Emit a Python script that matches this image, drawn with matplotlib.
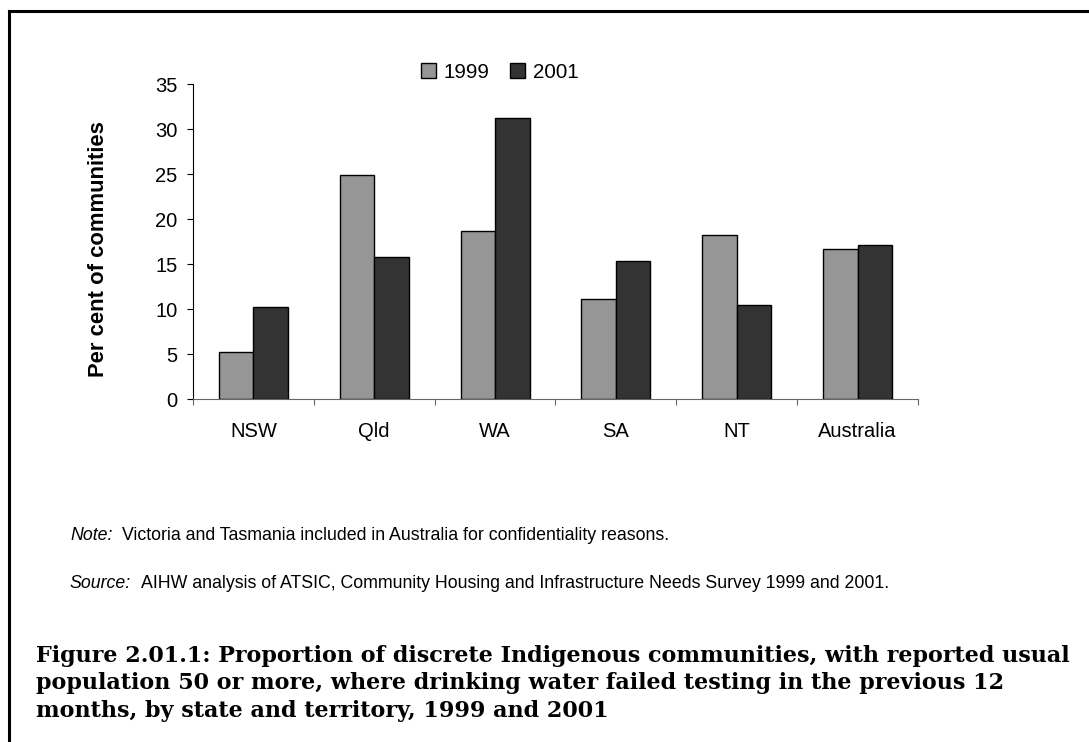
import matplotlib
matplotlib.use('Agg')
import matplotlib.pyplot as plt
import numpy as np
from matplotlib.lines import Line2D
from matplotlib.patches import Patch

plt.rcParams['font.family'] = ['Liberation Sans', 'DejaVu Sans']

# data
states = ['NSW', 'Qld', 'WA', 'SA', 'NT', 'Australia']
years = ['1999', '2001']
pct_1999 = [5.2, 24.9, 18.7, 11.1, 18.3, 16.7]
pct_2001 = [10.3, 15.8, 31.2, 15.4, 10.5, 17.1]
colors = ['#969696', '#333333']

title_lines = ['Figure 2.01.1: Proportion of discrete Indigenous communities, with reported usual',
               'population 50 or more, where drinking water failed testing in the previous 12',
               'months, by state and territory, 1999 and 2001']

fig = plt.figure(figsize=(10.89, 7.42), dpi=100)
ax = fig.add_axes([0.1772, 0.4619, 0.843 - 0.1772, 0.8864 - 0.4619])

x = np.arange(len(states))
w = 0.286
ax.bar(x - w/2, pct_1999, w, color=colors[0], edgecolor='black', linewidth=1.0)
ax.bar(x + w/2, pct_2001, w, color=colors[1], edgecolor='black', linewidth=1.0)

ax.set_xlim(-0.5, len(states) - 0.5)
ax.set_ylim(0, 35)
ax.set_yticks(range(0, 36, 5))
ax.set_xticks(x)
ax.set_xticklabels(states)
ax.set_xticks(np.arange(-0.5, len(states)), minor=True)
ax.tick_params(axis='x', which='major', length=0, pad=16.5, labelsize=14.5)
ax.tick_params(axis='x', which='minor', length=4, width=0.8, color='#666666')
ax.tick_params(axis='y', length=4, width=0.8, pad=7, labelsize=14.5)
for s in ['top', 'right']:
    ax.spines[s].set_visible(False)
for s in ['left', 'bottom']:
    ax.spines[s].set_linewidth(0.8)
ax.spines['bottom'].set_color('#666666')

fig.text(99/1089, 1 - 249/742, 'Per cent of communities', rotation=90,
         ha='center', va='center', fontsize=15.8, fontweight='bold')

handles = [Patch(facecolor=c, edgecolor='black', linewidth=1.0) for c in colors]
fig.legend(handles, years, loc='center', bbox_to_anchor=(500/1089, 1 - 72/742),
           ncol=2, frameon=False, fontsize=14.8, handlelength=0.72, handleheight=0.72,
           handletextpad=0.4, columnspacing=1.0)

# notes
t1 = fig.text(70/1089, 1 - 540/742, 'Note:', style='italic', fontsize=12.8, va='baseline')
ax.annotate('Victoria and Tasmania included in Australia for confidentiality reasons.',
            xy=(1, 0), xycoords=t1, xytext=(7, 0), textcoords='offset points',
            va='bottom', fontsize=12.8, annotation_clip=False)
t2 = fig.text(70/1089, 1 - 588/742, 'Source:', style='italic', fontsize=12.8, va='baseline')
ax.annotate('AIHW analysis of ATSIC, Community Housing and Infrastructure Needs Survey 1999 and 2001.',
            xy=(1, 0), xycoords=t2, xytext=(7, 0), textcoords='offset points',
            va='bottom', fontsize=12.8, annotation_clip=False)

for i, line in enumerate(title_lines):
    fig.text(36/1089, 1 - (662 + 27.5 * i)/742, line, family=['DejaVu Serif'],
             fontweight='bold', fontsize=16, va='baseline', ha='left')

# page frame (left and top edges)
fig.add_artist(Line2D([9/1089, 9/1089], [0, 1 - 11/742], color='black', linewidth=2.2,
                      transform=fig.transFigure))
fig.add_artist(Line2D([9/1089, 1], [1 - 11/742, 1 - 11/742], color='black', linewidth=2.2,
                      transform=fig.transFigure))

fig.savefig('out.png', dpi=100, facecolor='white')
